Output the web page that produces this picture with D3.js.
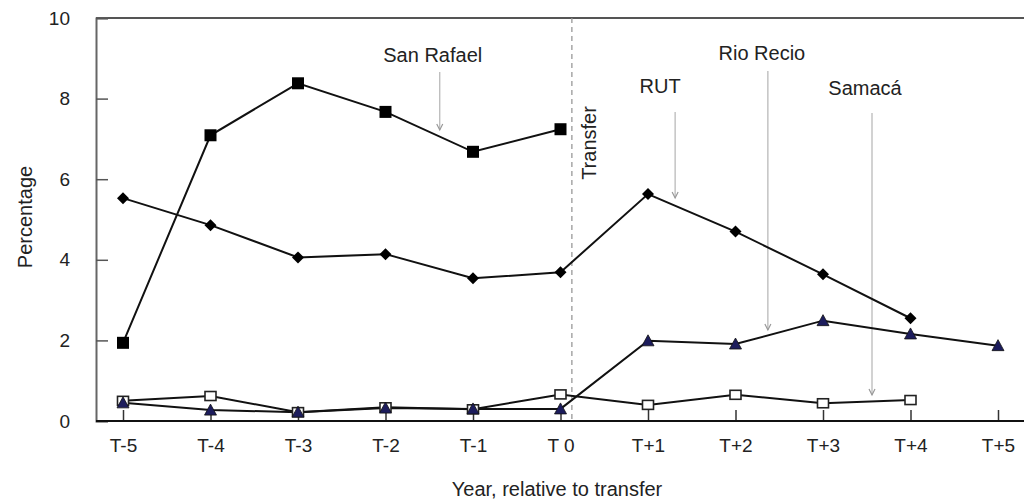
<!DOCTYPE html>
<html>
<head>
<meta charset="utf-8">
<script src="https://cdn.jsdelivr.net/npm/d3@7"></script>
<style>
  html, body { margin: 0; padding: 0; background: #fff; }
  svg { display: block; font-family: "Liberation Sans", Arial, Helvetica, sans-serif; }
</style>
</head>
<body>
<svg id="chart" width="1024" height="501"></svg>
<script>
// Years relative to the transfer, and their tick labels
const years = [-5, -4, -3, -2, -1, 0, 1, 2, 3, 4, 5];
const yearLabels = ["T-5", "T-4", "T-3", "T-2", "T-1", "T 0", "T+1", "T+2", "T+3", "T+4", "T+5"];
const yTicks = [0, 2, 4, 6, 8, 10];

// Series values (percentage); null where a year has no observation
const filledSquares = [1.94, 7.09, 8.38, 7.67, 6.68, 7.24, null, null, null, null, null];
const diamonds      = [5.53, 4.86, 4.06, 4.14, 3.54, 3.69, 5.63, 4.70, 3.64, 2.55, null];
const triangles     = [0.45, 0.27, 0.22, 0.32, 0.30, 0.30, 1.99, 1.91, 2.49, 2.16, 1.87];
const openSquares   = [0.50, 0.62, 0.22, 0.34, 0.29, 0.66, 0.40, 0.65, 0.44, 0.52, null];

// Event annotations: label, year position of the arrow
const eventNames = ["San Rafael", "RUT", "Rio Recio", "Samacá"];
const eventYears = [-1.38, 1.31, 2.37, 3.56];
const transferYear = 0.13;

const svg = d3.select("#chart");
const x = d3.scaleLinear().domain([-5, 5]).range([123, 998]);
const y = d3.scaleLinear().domain([0, 10]).range([421, 18]);
const textColor = "#222";

// Frame: top rule, left axis, bottom axis
svg.append("line").attr("x1", 96).attr("x2", 1024).attr("y1", y(10)).attr("y2", y(10))
  .attr("stroke", "#555").attr("stroke-width", 2);

const yAxis = d3.axisLeft(y).tickValues(yTicks).tickSize(-12).tickPadding(26).tickFormat(d3.format("d"));
const gy = svg.append("g").attr("transform", "translate(96,0)").call(yAxis);
gy.select(".domain").attr("stroke", "#666").attr("stroke-width", 2);
gy.selectAll(".tick line").attr("stroke", "#555").attr("stroke-width", 1.5);
gy.selectAll(".tick text").attr("font-size", 19).attr("fill", textColor)
  .attr("font-family", "Liberation Sans, Arial, sans-serif");

const xAxis = d3.axisBottom(x).tickValues(years).tickSize(-11).tickPadding(18)
  .tickFormat((d, i) => yearLabels[i]);
const gx = svg.append("g").attr("transform", `translate(0,${y(0)})`).call(xAxis);
gx.select(".domain").remove();
gx.selectAll(".tick line").attr("stroke", "#333").attr("stroke-width", 1.5);
gx.selectAll(".tick text").attr("font-size", 19).attr("fill", textColor)
  .attr("font-family", "Liberation Sans, Arial, sans-serif");
svg.append("line").attr("x1", 96).attr("x2", 1024).attr("y1", y(0)).attr("y2", y(0))
  .attr("stroke", "#111").attr("stroke-width", 2.2);

// Axis titles
svg.append("text").attr("x", 557).attr("y", 491).attr("text-anchor", "middle")
  .attr("dominant-baseline", "middle").attr("font-size", 20).attr("fill", textColor)
  .text("Year, relative to transfer");
svg.append("text").attr("transform", "translate(27,217) rotate(-90)").attr("text-anchor", "middle")
  .attr("dominant-baseline", "middle").attr("font-size", 20).attr("fill", textColor)
  .text("Percentage");

// Transfer marker
svg.append("line").attr("x1", x(transferYear)).attr("x2", x(transferYear))
  .attr("y1", y(10)).attr("y2", y(0))
  .attr("stroke", "#999").attr("stroke-width", 1.3).attr("stroke-dasharray", "5,4");
svg.append("text").attr("transform", `translate(${x(transferYear) + 19},143) rotate(-90)`)
  .attr("text-anchor", "middle").attr("dominant-baseline", "middle")
  .attr("font-size", 20).attr("fill", textColor).text("Transfer");

// Event arrows
const eventLabelY = [57, 88, 55, 90];
const eventLabelDx = [-7, -15, -6, -7];
const eventArrowTop = [72, 112, 71, 113];
const eventArrowBottom = [130, 198, 330, 395];
const ev = svg.append("g");
eventNames.forEach((name, i) => {
  const ax = x(eventYears[i]);
  ev.append("text").attr("x", ax + eventLabelDx[i]).attr("y", eventLabelY[i])
    .attr("text-anchor", "middle").attr("dominant-baseline", "middle")
    .attr("font-size", 20).attr("fill", textColor).text(name);
  ev.append("line").attr("x1", ax).attr("x2", ax)
    .attr("y1", eventArrowTop[i]).attr("y2", eventArrowBottom[i])
    .attr("stroke", "#b4b4b4").attr("stroke-width", 1.2);
  ev.append("path")
    .attr("d", `M${ax - 3},${eventArrowBottom[i] - 6} L${ax},${eventArrowBottom[i]} L${ax + 3},${eventArrowBottom[i] - 6}`)
    .attr("fill", "none").attr("stroke", "#999").attr("stroke-width", 1.2);
});

// Series lines and markers
const series = [
  { values: openSquares, shape: "openSquare" },
  { values: triangles, shape: "triangle" },
  { values: diamonds, shape: "diamond" },
  { values: filledSquares, shape: "square" }
];

const line = d3.line()
  .defined(d => d.v !== null)
  .x(d => x(d.t)).y(d => y(d.v));

series.forEach(s => {
  const pts = years.map((t, i) => ({ t, v: s.values[i] }));
  svg.append("path").datum(pts).attr("d", line)
    .attr("fill", "none").attr("stroke", "#111").attr("stroke-width", 2);
});

series.forEach(s => {
  const pts = years.map((t, i) => ({ t, v: s.values[i] })).filter(d => d.v !== null);
  const g = svg.append("g");
  pts.forEach(d => {
    const cx = x(d.t), cy = y(d.v);
    if (s.shape === "square") {
      g.append("rect").attr("x", cx - 6).attr("y", cy - 6).attr("width", 12).attr("height", 12)
        .attr("fill", "#000");
    } else if (s.shape === "openSquare") {
      g.append("rect").attr("x", cx - 5.5).attr("y", cy - 4.5).attr("width", 11).attr("height", 9)
        .attr("fill", "#fff").attr("stroke", "#222").attr("stroke-width", 1.6);
    } else if (s.shape === "diamond") {
      g.append("path").attr("d", `M${cx},${cy - 6} L${cx + 6},${cy} L${cx},${cy + 6} L${cx - 6},${cy} Z`)
        .attr("fill", "#000");
    } else {
      g.append("path").attr("d", `M${cx},${cy - 6} L${cx + 6},${cy + 5} L${cx - 6},${cy + 5} Z`)
        .attr("fill", "#1c1c5c").attr("stroke", "#111").attr("stroke-width", 0.8);
    }
  });
});
</script>
</body>
</html>
